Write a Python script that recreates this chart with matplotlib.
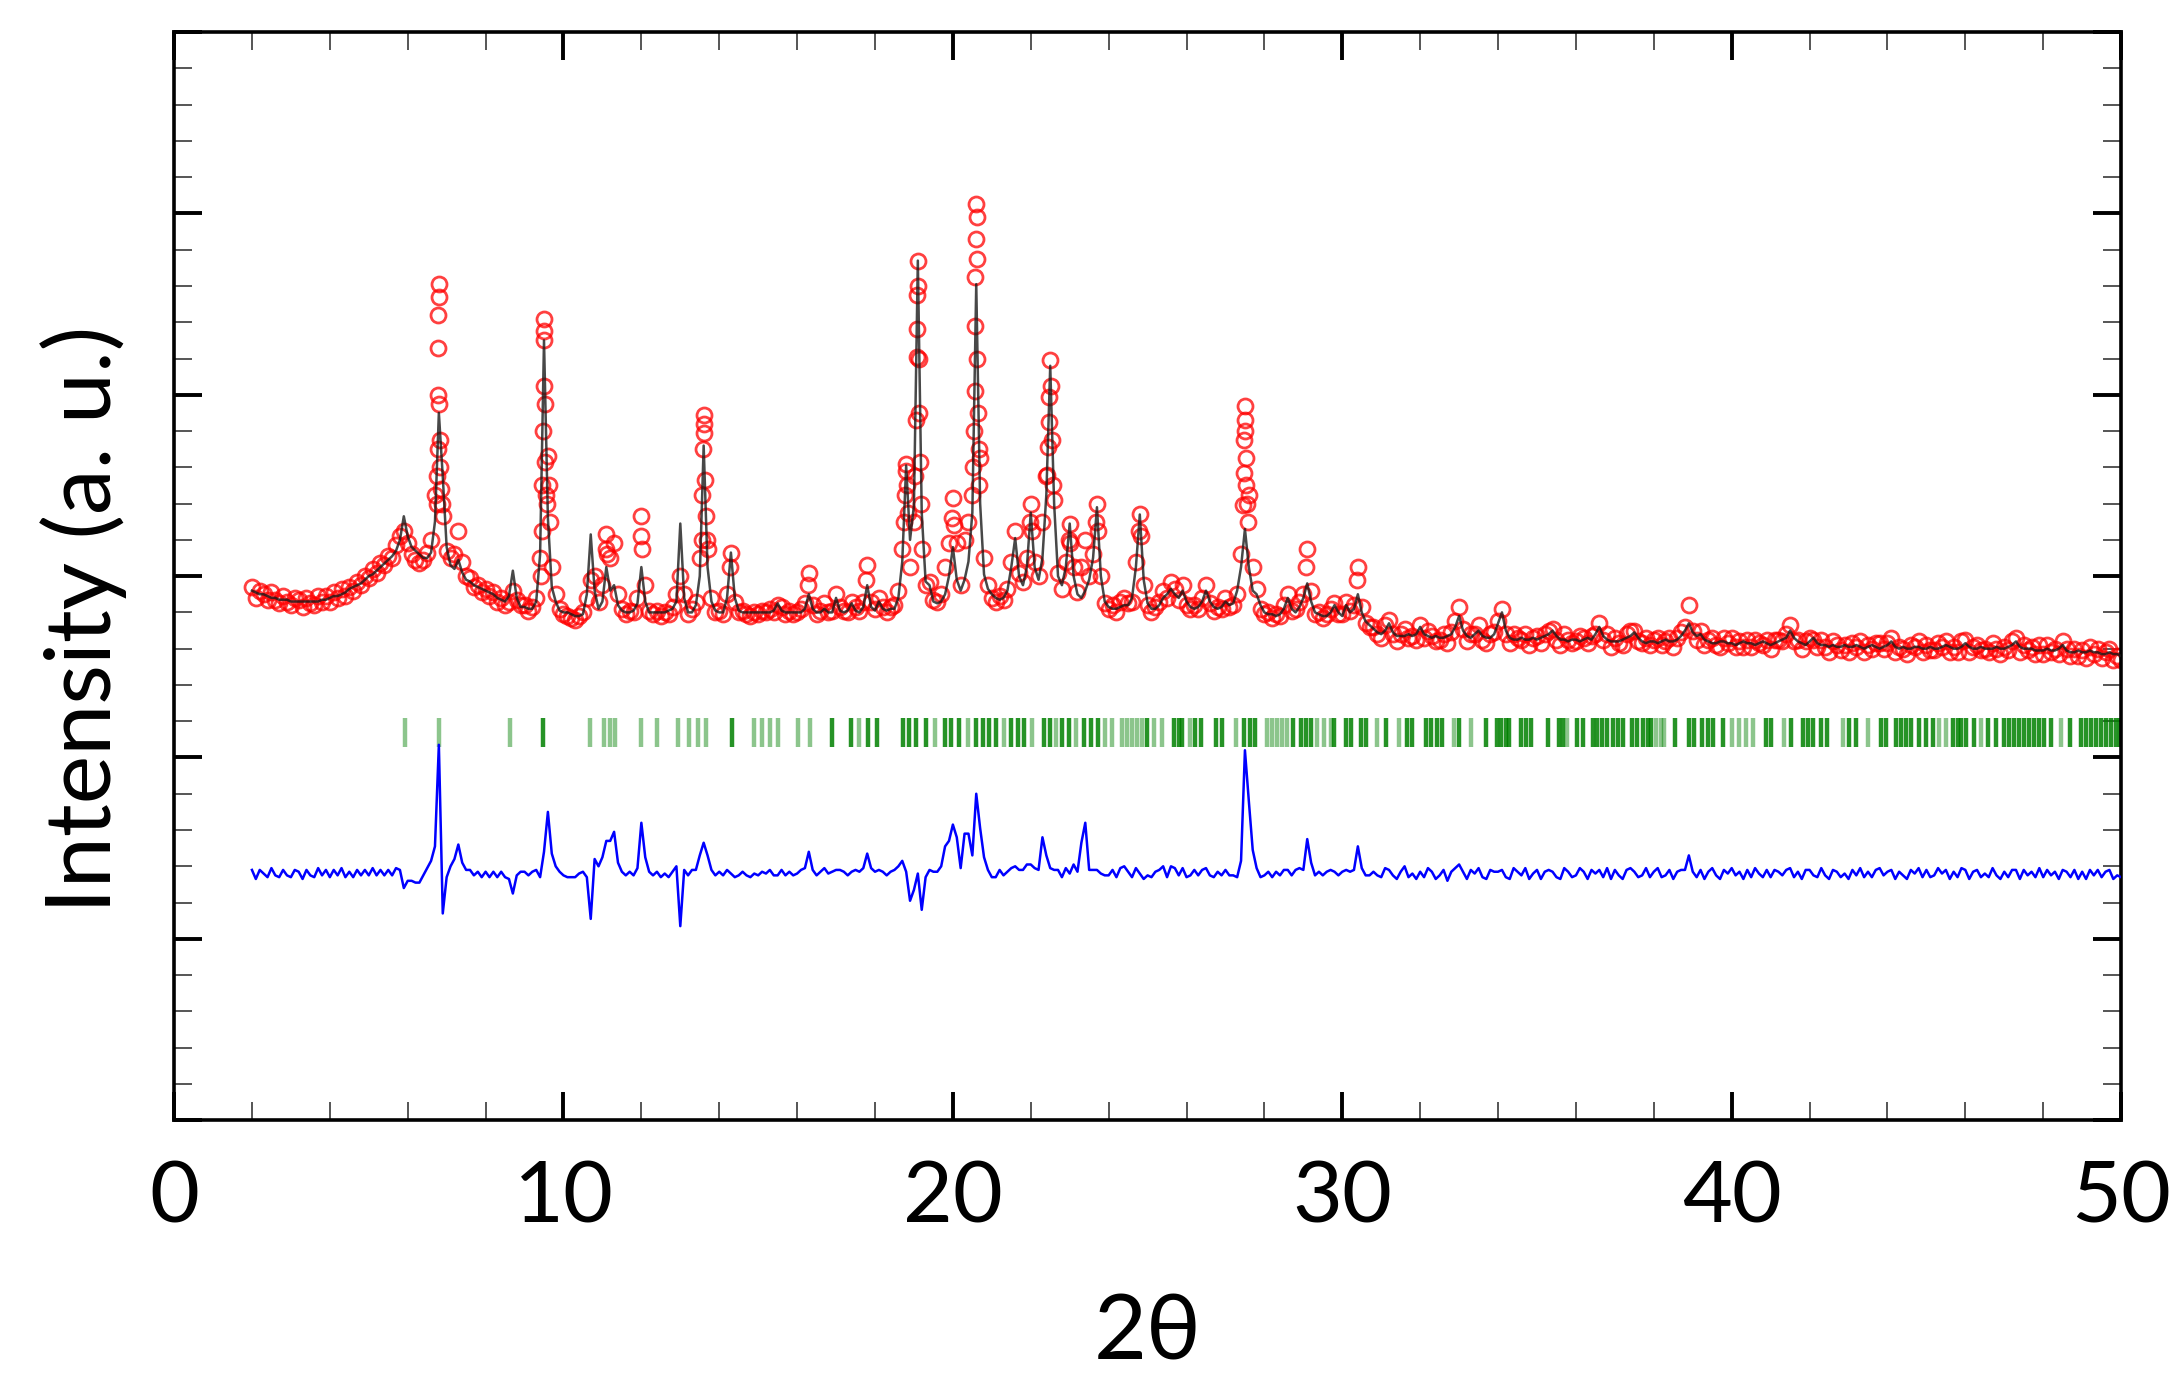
import numpy as np
import matplotlib
matplotlib.use("Agg")
import matplotlib.pyplot as plt
from matplotlib.ticker import MultipleLocator, NullFormatter

plt.rcParams['font.family'] = ['Lato', 'DejaVu Sans']

# ---------------- data ----------------
# 2theta grid: 2.0 .. 50.0 step 0.1 (rows below are one degree each)
calc_rows = [
    [2.92, 2.91, 2.90, 2.90, 2.89, 2.88, 2.88, 2.87, 2.87, 2.87],  # 2
    [2.86, 2.86, 2.86, 2.86, 2.86, 2.86, 2.86, 2.86, 2.87, 2.87],  # 3
    [2.88, 2.89, 2.89, 2.90, 2.91, 2.93, 2.94, 2.95, 2.96, 2.98],  # 4
    [3.00, 3.01, 3.03, 3.05, 3.07, 3.09, 3.11, 3.14, 3.20, 3.33],  # 5
    [3.22, 3.16, 3.14, 3.12, 3.10, 3.10, 3.13, 3.30, 3.90, 3.55],  # 6
    [3.16, 3.06, 3.04, 3.09, 3.02, 2.98, 2.97, 2.95, 2.94, 2.93],  # 7
    [2.92, 2.91, 2.90, 2.88, 2.87, 2.86, 2.89, 3.03, 2.88, 2.83],  # 8
    [2.83, 2.82, 2.82, 2.86, 3.12, 4.30, 3.32, 2.94, 2.86, 2.81],  # 9
    [2.80, 2.80, 2.79, 2.78, 2.78, 2.79, 2.90, 3.23, 2.92, 2.82],  # 10
    [2.86, 3.05, 2.92, 2.95, 2.84, 2.81, 2.80, 2.80, 2.81, 2.85],  # 11
    [3.05, 2.86, 2.80, 2.80, 2.80, 2.80, 2.80, 2.81, 2.82, 2.86],  # 12
    [3.29, 2.88, 2.80, 2.80, 2.84, 3.00, 3.72, 3.05, 2.86, 2.81],  # 13
    [2.80, 2.80, 2.88, 3.13, 2.88, 2.81, 2.80, 2.80, 2.80, 2.80],  # 14
    [2.80, 2.80, 2.80, 2.80, 2.81, 2.85, 2.81, 2.80, 2.80, 2.80],  # 15
    [2.80, 2.80, 2.82, 2.90, 2.82, 2.80, 2.80, 2.82, 2.80, 2.80],  # 16
    [2.88, 2.81, 2.80, 2.81, 2.85, 2.81, 2.80, 2.83, 2.95, 2.83],  # 17
    [2.81, 2.86, 2.82, 2.81, 2.82, 2.82, 2.88, 3.08, 3.61, 3.20],  # 18
    [3.39, 4.74, 3.35, 2.97, 2.95, 2.86, 2.85, 2.86, 2.90, 3.00],  # 19
    [3.16, 2.98, 2.92, 2.98, 3.08, 3.35, 4.61, 3.40, 3.01, 2.93],  # 20
    [2.90, 2.88, 2.87, 2.88, 2.92, 3.05, 3.21, 3.00, 2.95, 3.05],  # 21
    [3.35, 3.05, 2.98, 3.10, 3.45, 4.16, 3.40, 3.00, 2.95, 3.05],  # 22
    [3.29, 3.00, 2.90, 2.88, 2.92, 2.98, 3.10, 3.38, 3.00, 2.86],  # 23
    [2.83, 2.82, 2.82, 2.83, 2.84, 2.84, 2.88, 3.05, 3.34, 2.98],  # 24
    [2.85, 2.82, 2.82, 2.84, 2.88, 2.90, 2.93, 2.90, 2.88, 2.92],  # 25
    [2.86, 2.83, 2.82, 2.83, 2.86, 2.92, 2.86, 2.83, 2.82, 2.83],  # 26
    [2.86, 2.84, 2.85, 2.92, 3.05, 3.26, 3.05, 2.92, 2.90, 2.84],  # 27
    [2.80, 2.79, 2.79, 2.78, 2.79, 2.82, 2.88, 2.82, 2.80, 2.83],  # 28
    [2.88, 2.96, 2.86, 2.80, 2.79, 2.78, 2.78, 2.80, 2.84, 2.80],  # 29
    [2.78, 2.84, 2.80, 2.82, 2.90, 2.80, 2.75, 2.73, 2.71, 2.69],  # 30
    [2.68, 2.70, 2.74, 2.69, 2.67, 2.67, 2.67, 2.68, 2.67, 2.68],  # 31
    [2.72, 2.68, 2.67, 2.66, 2.67, 2.66, 2.66, 2.67, 2.68, 2.72],  # 32
    [2.78, 2.70, 2.67, 2.66, 2.68, 2.70, 2.67, 2.66, 2.66, 2.68],  # 33
    [2.74, 2.80, 2.70, 2.66, 2.65, 2.65, 2.66, 2.65, 2.65, 2.66],  # 34
    [2.65, 2.66, 2.67, 2.68, 2.70, 2.67, 2.65, 2.65, 2.64, 2.65],  # 35
    [2.65, 2.64, 2.65, 2.66, 2.65, 2.68, 2.72, 2.67, 2.65, 2.64],  # 36
    [2.64, 2.64, 2.65, 2.66, 2.67, 2.69, 2.66, 2.64, 2.63, 2.64],  # 37
    [2.64, 2.63, 2.64, 2.65, 2.64, 2.64, 2.65, 2.67, 2.70, 2.74],  # 38
    [2.69, 2.67, 2.68, 2.65, 2.64, 2.63, 2.63, 2.64, 2.64, 2.63],  # 39
    [2.63, 2.62, 2.63, 2.64, 2.63, 2.63, 2.62, 2.63, 2.64, 2.63],  # 40
    [2.62, 2.63, 2.64, 2.65, 2.66, 2.70, 2.66, 2.64, 2.63, 2.62],  # 41
    [2.64, 2.66, 2.63, 2.62, 2.62, 2.61, 2.62, 2.61, 2.61, 2.62],  # 42
    [2.61, 2.61, 2.62, 2.61, 2.60, 2.61, 2.62, 2.61, 2.60, 2.61],  # 43
    [2.62, 2.64, 2.61, 2.60, 2.61, 2.60, 2.60, 2.61, 2.61, 2.60],  # 44
    [2.60, 2.61, 2.60, 2.60, 2.61, 2.62, 2.61, 2.60, 2.60, 2.61],  # 45
    [2.63, 2.61, 2.60, 2.60, 2.61, 2.60, 2.60, 2.60, 2.61, 2.60],  # 46
    [2.60, 2.61, 2.62, 2.64, 2.61, 2.60, 2.60, 2.60, 2.59, 2.59],  # 47
    [2.59, 2.60, 2.59, 2.59, 2.60, 2.62, 2.59, 2.58, 2.58, 2.59],  # 48
    [2.58, 2.58, 2.59, 2.58, 2.58, 2.57, 2.57, 2.58, 2.57, 2.57],  # 49
    [2.56],                                                        # 50
]

obs_rows = [
    [2.94, 2.88, 2.92, 2.90, 2.87, 2.91, 2.87, 2.85, 2.89, 2.86],  # 2
    [2.84, 2.88, 2.87, 2.83, 2.88, 2.85, 2.84, 2.89, 2.86, 2.89],  # 3
    [2.86, 2.91, 2.88, 2.93, 2.89, 2.94, 2.92, 2.97, 2.95, 3.00],  # 4
    [2.99, 3.04, 3.02, 3.07, 3.06, 3.11, 3.10, 3.17, 3.22, 3.25],  # 5
    [3.18, 3.12, 3.09, 3.07, 3.09, 3.13, 3.20, 3.45, 4.61, 3.33],  # 6
    [3.14, 3.10, 3.12, 3.25, 3.08, 3.00, 2.99, 2.94, 2.95, 2.91],  # 7
    [2.93, 2.89, 2.91, 2.86, 2.88, 2.84, 2.86, 2.92, 2.87, 2.84],  # 8
    [2.84, 2.81, 2.83, 2.88, 3.10, 4.42, 3.66, 3.05, 2.90, 2.82],  # 9
    [2.79, 2.78, 2.77, 2.76, 2.78, 2.80, 2.88, 2.98, 3.00, 2.86],  # 10
    [2.95, 3.23, 3.10, 3.18, 2.90, 2.82, 2.79, 2.81, 2.80, 2.88],  # 11
    [3.33, 2.95, 2.81, 2.79, 2.81, 2.78, 2.80, 2.79, 2.83, 2.90],  # 12
    [3.00, 2.90, 2.79, 2.82, 2.86, 3.10, 3.89, 3.15, 2.88, 2.80],  # 13
    [2.81, 2.79, 2.90, 3.13, 2.86, 2.80, 2.81, 2.79, 2.78, 2.80],  # 14
    [2.79, 2.81, 2.80, 2.82, 2.80, 2.84, 2.83, 2.79, 2.81, 2.79],  # 15
    [2.80, 2.82, 2.85, 3.02, 2.84, 2.79, 2.81, 2.85, 2.80, 2.81],  # 16
    [2.90, 2.83, 2.81, 2.80, 2.86, 2.83, 2.81, 2.86, 3.06, 2.86],  # 17
    [2.82, 2.88, 2.83, 2.80, 2.83, 2.84, 2.92, 3.15, 3.62, 3.05],  # 18
    [3.30, 4.74, 3.15, 2.95, 2.97, 2.87, 2.86, 2.90, 3.05, 3.18],  # 19
    [3.43, 3.18, 2.95, 3.20, 3.30, 3.45, 5.05, 3.65, 3.10, 2.95],  # 20
    [2.88, 2.86, 2.89, 2.87, 2.93, 3.08, 3.25, 3.02, 2.97, 3.10],  # 21
    [3.40, 3.08, 3.00, 3.30, 3.55, 4.19, 3.42, 3.02, 2.93, 3.08],  # 22
    [3.29, 3.05, 2.91, 3.05, 3.20, 3.00, 3.12, 3.40, 3.00, 2.85],  # 23
    [2.82, 2.84, 2.80, 2.86, 2.88, 2.85, 2.86, 3.08, 3.34, 2.95],  # 24
    [2.84, 2.80, 2.83, 2.86, 2.92, 2.88, 2.97, 2.93, 2.87, 2.95],  # 25
    [2.84, 2.82, 2.84, 2.82, 2.88, 2.95, 2.85, 2.81, 2.83, 2.82],  # 26
    [2.88, 2.83, 2.84, 2.90, 3.12, 3.94, 3.45, 3.05, 2.93, 2.82],  # 27
    [2.79, 2.80, 2.77, 2.79, 2.78, 2.84, 2.90, 2.81, 2.82, 2.86],  # 28
    [2.90, 3.15, 2.92, 2.79, 2.80, 2.77, 2.79, 2.82, 2.85, 2.79],  # 29
    [2.79, 2.86, 2.81, 2.84, 3.05, 2.83, 2.74, 2.72, 2.72, 2.68],  # 30
    [2.66, 2.73, 2.76, 2.68, 2.64, 2.68, 2.71, 2.66, 2.67, 2.65],  # 31
    [2.73, 2.66, 2.70, 2.67, 2.64, 2.65, 2.68, 2.63, 2.69, 2.75],  # 32
    [2.83, 2.71, 2.64, 2.68, 2.68, 2.73, 2.65, 2.63, 2.68, 2.69],  # 33
    [2.75, 2.82, 2.68, 2.63, 2.68, 2.66, 2.65, 2.68, 2.62, 2.66],  # 34
    [2.67, 2.63, 2.68, 2.70, 2.71, 2.65, 2.62, 2.68, 2.65, 2.63],  # 35
    [2.64, 2.67, 2.66, 2.63, 2.67, 2.68, 2.74, 2.65, 2.68, 2.61],  # 36
    [2.66, 2.63, 2.62, 2.68, 2.70, 2.70, 2.64, 2.63, 2.66, 2.62],  # 37
    [2.65, 2.66, 2.62, 2.64, 2.66, 2.61, 2.66, 2.69, 2.72, 2.84],  # 38
    [2.70, 2.65, 2.70, 2.62, 2.65, 2.66, 2.62, 2.61, 2.66, 2.63],  # 39
    [2.66, 2.61, 2.64, 2.61, 2.65, 2.61, 2.65, 2.63, 2.62, 2.65],  # 40
    [2.60, 2.65, 2.65, 2.64, 2.68, 2.73, 2.64, 2.65, 2.60, 2.64],  # 41
    [2.66, 2.65, 2.61, 2.65, 2.61, 2.58, 2.64, 2.62, 2.59, 2.62],  # 42
    [2.58, 2.63, 2.61, 2.64, 2.58, 2.62, 2.60, 2.63, 2.63, 2.60],  # 43
    [2.63, 2.66, 2.58, 2.61, 2.60, 2.57, 2.62, 2.61, 2.64, 2.58],  # 44
    [2.62, 2.59, 2.59, 2.63, 2.61, 2.64, 2.58, 2.61, 2.58, 2.64],  # 45
    [2.65, 2.58, 2.61, 2.62, 2.59, 2.60, 2.58, 2.63, 2.60, 2.57],  # 46
    [2.61, 2.59, 2.64, 2.66, 2.58, 2.62, 2.59, 2.61, 2.57, 2.62],  # 47
    [2.57, 2.62, 2.58, 2.60, 2.57, 2.64, 2.60, 2.56, 2.60, 2.56],  # 48
    [2.59, 2.55, 2.61, 2.57, 2.60, 2.55, 2.58, 2.60, 2.54, 2.56],  # 49
    [2.54],                                                        # 50
]

# additional observed points on steep peak flanks (fine steps near peak tops)
obs_flank_x = [6.74, 6.76, 6.77, 6.78, 6.79, 6.79, 6.80, 6.81, 6.82, 6.83, 6.85, 6.87,
               9.42, 9.44, 9.46, 9.48, 9.49, 9.50, 9.51, 9.52, 9.53, 9.55, 9.57, 9.62, 9.65,
               11.08, 11.12, 11.98, 12.02,
               13.55, 13.57, 13.59, 13.61, 13.62, 13.63, 13.65, 13.68,
               14.28, 16.28, 17.78,
               18.75, 18.77, 18.79, 18.82, 18.85,
               19.03, 19.05, 19.07, 19.08, 19.09, 19.11, 19.12, 19.13, 19.15, 19.17,
               19.98, 20.02,
               20.52, 20.54, 20.56, 20.57, 20.58, 20.59, 20.61, 20.62, 20.63, 20.64, 20.66, 20.68,
               21.98, 22.02,
               22.42, 22.44, 22.46, 22.48, 22.52, 22.54, 22.56,
               22.98, 23.02, 23.68, 23.72, 24.78, 24.82,
               27.46, 27.47, 27.48, 27.49, 27.51, 27.52, 27.53, 27.55, 27.57,
               29.08, 30.38]
obs_flank_y = [3.40, 3.55, 3.70, 4.00, 4.26, 4.44, 4.54, 3.95, 3.75, 3.60, 3.48, 3.40,
               3.00, 3.25, 3.50, 3.80, 4.05, 4.30, 4.35, 3.95, 3.63, 3.45, 3.40, 3.50, 3.30,
               3.15, 3.12, 3.22, 3.15,
               3.20, 3.45, 3.70, 3.84, 3.79, 3.53, 3.33, 3.20,
               3.05, 2.95, 2.98,
               3.30, 3.45, 3.58, 3.50, 3.35,
               3.55, 3.86, 4.21, 4.36, 4.55, 4.60, 4.20, 3.90, 3.63, 3.40,
               3.32, 3.28,
               3.60, 3.80, 4.02, 4.38, 4.65, 4.86, 4.98, 4.75, 4.20, 3.90, 3.70, 3.50,
               3.30, 3.25,
               3.56, 3.71, 3.85, 3.99, 4.05, 3.75, 3.50,
               3.20, 3.18, 3.30, 3.25, 3.25, 3.22,
               3.39, 3.57, 3.75, 3.86, 3.80, 3.65, 3.50, 3.40, 3.30,
               3.05, 2.98]

# Bragg reflection positions (2theta)
bragg_weak = [5.92, 6.80, 8.62, 10.68, 11.05, 11.20, 11.33, 11.98, 12.40, 12.95,
              13.22, 13.45, 13.66, 14.90, 15.10, 15.30, 15.52, 16.02, 16.33, 17.58,
              19.55, 20.40, 21.32, 22.02, 22.65, 23.15, 23.90, 24.09, 24.35, 24.48,
              24.61, 24.73, 24.86, 25.16, 25.38, 26.10, 27.26, 28.07, 28.20, 28.33,
              28.46, 28.59, 29.36, 29.53, 29.70, 30.88, 31.46, 32.87, 33.30, 35.78,
              38.05, 38.18, 38.27, 40.02, 40.19, 40.37, 40.54, 41.35, 42.85, 43.49,
              45.33, 45.51, 46.40, 48.46]
bragg_strong = [9.48, 14.32, 16.90, 17.38, 17.82, 18.06, 18.72, 18.88, 19.05, 19.30,
                19.80, 19.95, 20.16, 20.60, 20.77, 20.94, 21.10, 21.50, 21.67, 21.83,
                22.33, 22.50, 22.80, 22.97, 23.38, 23.55, 23.72, 24.99, 25.68, 25.80,
                25.89, 26.23, 26.36, 26.75, 26.92, 27.47, 27.63, 27.77, 28.74, 28.93,
                29.06, 29.19, 29.79, 30.09, 30.22, 30.47, 30.60, 31.12, 31.67, 31.80,
                32.14, 32.27, 32.44, 32.57, 33.00, 33.68, 33.98, 34.07, 34.20, 34.28,
                34.58, 34.71, 34.84, 35.27, 35.57, 35.68, 36.04, 36.17, 36.43, 36.55,
                36.68, 36.81, 36.94, 37.07, 37.20, 37.45, 37.58, 37.71, 37.84, 37.92,
                38.54, 38.91, 39.04, 39.25, 39.38, 39.51, 39.77, 40.88, 41.01, 41.52,
                41.82, 41.95, 42.08, 42.29, 42.46, 43.02, 43.19, 43.83, 43.96, 44.22,
                44.35, 44.48, 44.61, 44.82, 44.99, 45.16, 45.68, 45.80, 45.89, 46.02,
                46.23, 46.57, 46.79, 47.00, 47.13, 47.26, 47.39, 47.51, 47.64, 47.77,
                47.90, 48.03, 48.20, 48.70, 48.97, 49.10, 49.23, 49.36, 49.49, 49.61,
                49.74, 49.87, 49.98]

diff_offset = 1.36
tick_band = (2.06, 2.22)

# ---------------- build series ----------------
calc = np.concatenate([np.array(r) for r in calc_rows])
obs = np.concatenate([np.array(r) for r in obs_rows])
two_theta = np.round(2.0 + 0.1 * np.arange(len(calc)), 1)
diff = obs - calc + diff_offset

obs_x_all = np.concatenate([two_theta, np.array(obs_flank_x)])
obs_y_all = np.concatenate([obs, np.array(obs_flank_y)])

# ---------------- plot ----------------
fig = plt.figure(figsize=(10.92, 6.975), dpi=200)
ax = fig.add_axes([0.0797, 0.197, 0.8915, 0.780])

ax.plot(obs_x_all, obs_y_all, linestyle='none', marker='o', markersize=5.4,
        markerfacecolor='none', markeredgecolor='red', markeredgewidth=1.0,
        alpha=0.75, zorder=2)
ax.plot(two_theta, calc, color='#1a1a1a', linewidth=0.9, alpha=0.8, zorder=3)
ax.vlines(bragg_weak, tick_band[0], tick_band[1], color='#008000',
          linewidth=1.6, alpha=0.45, zorder=2)
ax.vlines(bragg_strong, tick_band[0], tick_band[1], color='#008000',
          linewidth=1.6, alpha=0.85, zorder=2)
ax.plot(two_theta, diff, color='blue', linewidth=0.9, zorder=3)

ax.set_xlim(0, 50)
ax.set_ylim(0, 6)
ax.xaxis.set_major_locator(MultipleLocator(10))
ax.xaxis.set_minor_locator(MultipleLocator(2))
ax.yaxis.set_major_locator(MultipleLocator(1))
ax.yaxis.set_minor_locator(MultipleLocator(0.2))
ax.yaxis.set_major_formatter(NullFormatter())

ax.tick_params(which='both', direction='in', top=True, right=True)
ax.tick_params(which='major', length=10, width=1.4, labelsize=31, pad=14)
ax.tick_params(which='minor', length=6.5, width=0.7, color='#555555')
for s in ax.spines.values():
    s.set_linewidth(1.3)

ax.set_xlabel('2θ', fontsize=33, labelpad=20)
ax.set_ylabel('Intensity (a. u.)', fontsize=33)
ax.yaxis.set_label_coords(-0.024, 0.46)

fig.savefig('out.png', dpi=200)
